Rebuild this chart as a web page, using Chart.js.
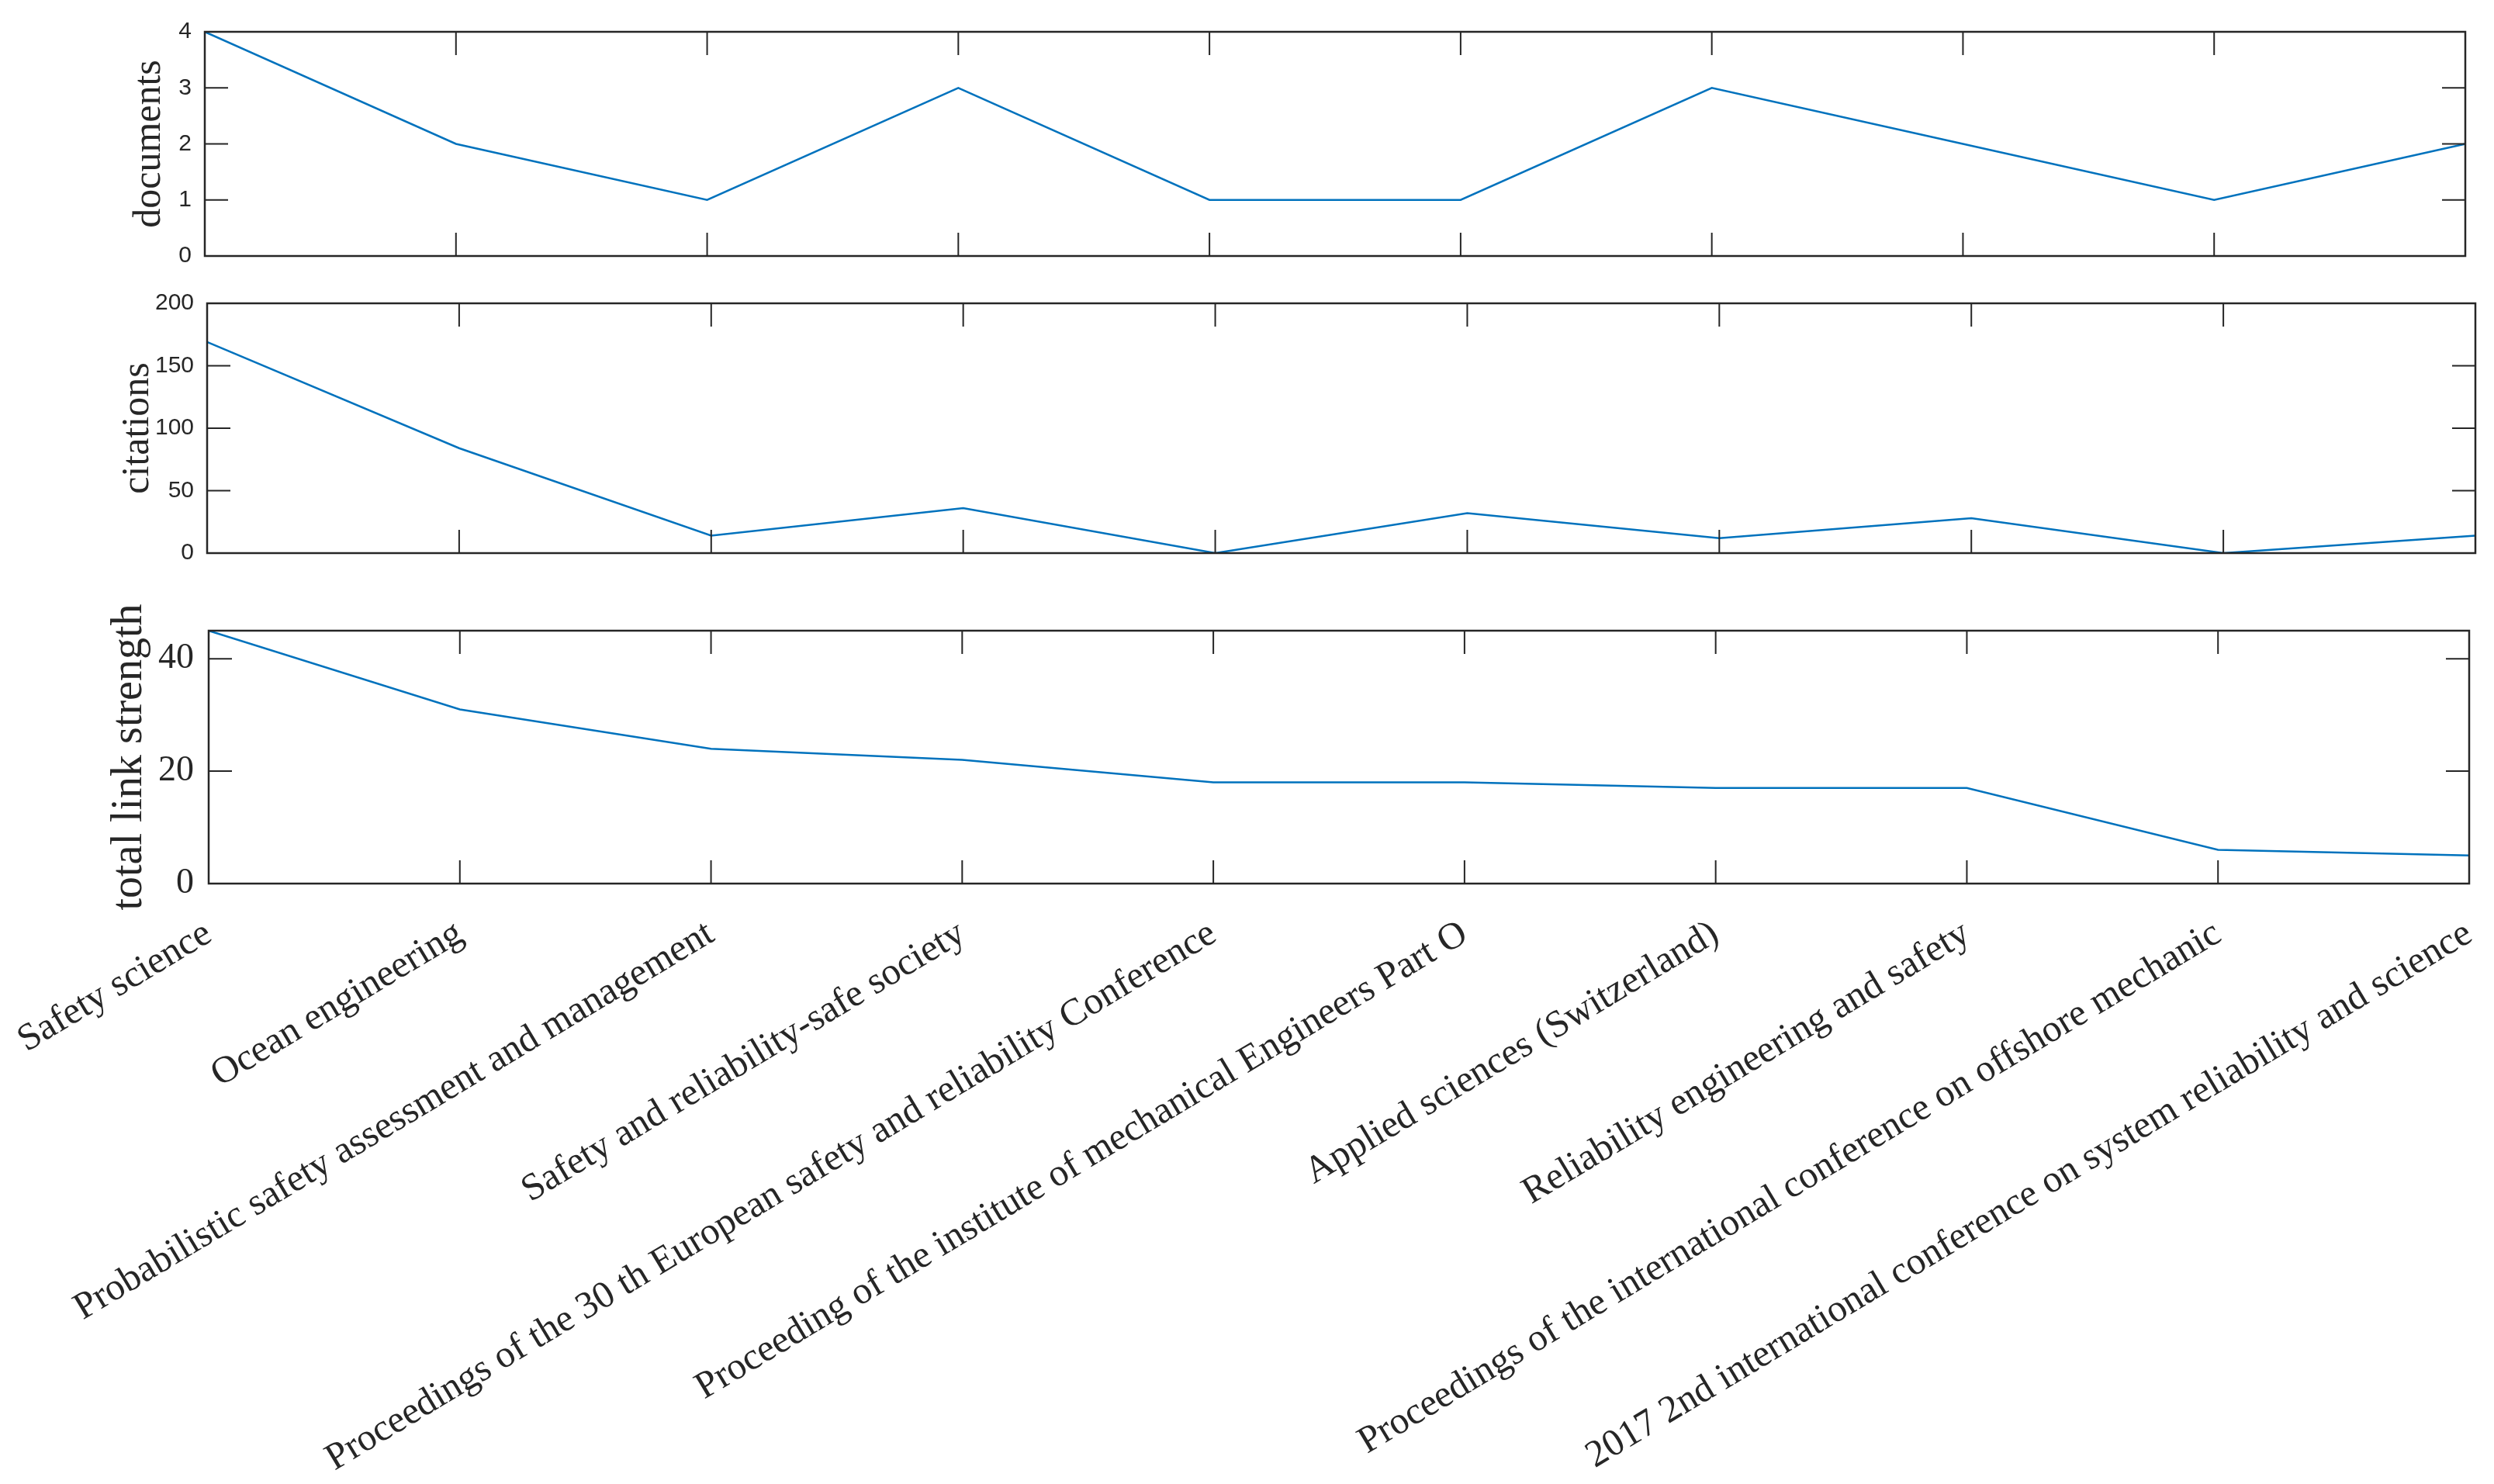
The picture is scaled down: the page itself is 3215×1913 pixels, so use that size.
<!DOCTYPE html>
<html>
<head>
<meta charset="utf-8">
<script src="https://cdn.jsdelivr.net/npm/chart.js@4.4.1/dist/chart.umd.min.js"></script>
<style>
    html, body { margin: 0; padding: 0; background: #fff; }
    #wrap { position: relative; width: 3215px; height: 1913px; overflow: hidden; background: #fff; }
    canvas { position: absolute; left: 0; }
</style>
</head>
<body>
<div id="wrap">
    <canvas id="documentsChart" width="3215" height="360" style="top:0px"></canvas>
    <canvas id="citationsChart" width="3215" height="380" style="top:360px"></canvas>
    <canvas id="linkChart" width="3215" height="1173" style="top:740px"></canvas>
</div>
<script>
const sources = [
    'Safety science',
    'Ocean engineering',
    'Probabilistic safety assessment and management',
    'Safety and reliability-safe society',
    'Proceedings of the 30 th European safety and reliability Conference',
    'Proceeding of the institute of mechanical Engineers Part O',
    'Applied sciences (Switzerland)',
    'Reliability engineering and safety',
    'Proceedings of the international conference on offshore mechanic',
    '2017 2nd international conference on system reliability and science',
];
const documents = [4, 2, 1, 3, 1, 1, 3, 2, 1, 2];
const citations = [169, 84, 14, 36, 0, 32, 12, 28, 0, 14];
const linkStrength = [45, 31, 24, 22, 18, 18, 17, 17, 6, 5];

const documentsTicks = [0, 1, 2, 3, 4];
const citationsTicks = [0, 50, 100, 150, 200];
const linkTicks = [0, 20, 40];

const AXIS_COLOR = '#262626';
const LINE_COLOR = '#0072BD';
const TICK_LEN = 30;
const SANS_TICKS = { family: "'Liberation Sans Narrow', 'Liberation Sans', Arial", size: 30 };

// MATLAB-like box with inward ticks on all four sides
const boxPlugin = {
    id: 'matlabBox',
    afterDraw(chart) {
        const { ctx, chartArea: a, scales: { x, y } } = chart;
        ctx.save();
        ctx.strokeStyle = AXIS_COLOR;
        ctx.lineWidth = 2;
        ctx.beginPath();
        x.ticks.forEach((t, i) => {
            const px = x.getPixelForTick(i);
            ctx.moveTo(px, a.bottom); ctx.lineTo(px, a.bottom - TICK_LEN);
            ctx.moveTo(px, a.top); ctx.lineTo(px, a.top + TICK_LEN);
        });
        y.ticks.forEach((t) => {
            const py = y.getPixelForValue(t.value);
            ctx.moveTo(a.left, py); ctx.lineTo(a.left + TICK_LEN, py);
            ctx.moveTo(a.right, py); ctx.lineTo(a.right - TICK_LEN, py);
        });
        ctx.stroke();
        ctx.lineWidth = 2.5;
        ctx.strokeRect(a.left, a.top, a.right - a.left, a.bottom - a.top);
        ctx.restore();
    },
};

function makeChart(id, opts) {
    const canvas = document.getElementById(id);
    if (!canvas) return null;

    return new Chart(canvas.getContext('2d'), {
        type: 'line',
        data: {
            labels: sources,
            datasets: [{
                data: opts.values,
                borderColor: LINE_COLOR,
                borderWidth: 2.5,
                pointRadius: 0,
                tension: 0,
                fill: false,
            }],
        },
        options: {
            responsive: false,
            animation: false,
            devicePixelRatio: 1,
            layout: { padding: opts.padding },
            plugins: {
                legend: { display: false },
                tooltip: { enabled: false },
            },
            scales: {
                x: {
                    offset: false,
                    grid: { display: false },
                    border: { display: false },
                    ticks: opts.showLabels ? {
                        display: true,
                        autoSkip: false,
                        maxRotation: 31,
                        minRotation: 31,
                        padding: 28,
                        color: AXIS_COLOR,
                        font: { family: 'Liberation Serif', size: 49 },
                    } : { display: false },
                    afterFit: (scale) => {
                        // keep the plot box where the reference has it
                        scale.height = opts.xHeight;
                        scale.paddingLeft = 0;
                        scale.paddingRight = 0;
                    },
                },
                y: {
                    min: opts.min,
                    max: opts.max,
                    grid: { display: false },
                    border: { display: false },
                    afterBuildTicks: (scale) => {
                        scale.ticks = opts.ticks.map((v) => ({ value: v }));
                    },
                    afterFit: (scale) => { scale.width = opts.yWidth; },
                    ticks: {
                        padding: opts.tickPad,
                        color: AXIS_COLOR,
                        font: opts.tickFont,
                    },
                    title: {
                        display: true,
                        text: opts.title,
                        color: AXIS_COLOR,
                        font: { family: 'Liberation Serif', size: opts.titleSize },
                        padding: { top: opts.titlePad, bottom: 0 },
                    },
                },
            },
        },
        plugins: [boxPlugin],
    });
}

makeChart('documentsChart', {
    values: documents,
    ticks: documentsTicks,
    min: 0, max: 4,
    title: 'documents', titleSize: 50, titlePad: 163,
    tickFont: SANS_TICKS, tickPad: 9,
    yWidth: 264, xHeight: 0,
    padding: { top: 41, right: 37, bottom: 30, left: 0 },
    showLabels: false,
});

makeChart('citationsChart', {
    values: citations,
    ticks: citationsTicks,
    min: 0, max: 200,
    title: 'citations', titleSize: 50, titlePad: 148,
    tickFont: SANS_TICKS, tickPad: 9,
    yWidth: 267, xHeight: 0,
    padding: { top: 31, right: 24, bottom: 24, left: 0 },
    showLabels: false,
});

makeChart('linkChart', {
    values: linkStrength,
    ticks: linkTicks,
    min: 0, max: 45,
    title: 'total link strength', titleSize: 56, titlePad: 134,
    tickFont: { family: 'Liberation Serif', size: 46 }, tickPad: 11,
    yWidth: 269, xHeight: 774,
    padding: { top: 73, right: 32, bottom: 0, left: 0 },
    showLabels: true,
});
</script>
</body>
</html>
